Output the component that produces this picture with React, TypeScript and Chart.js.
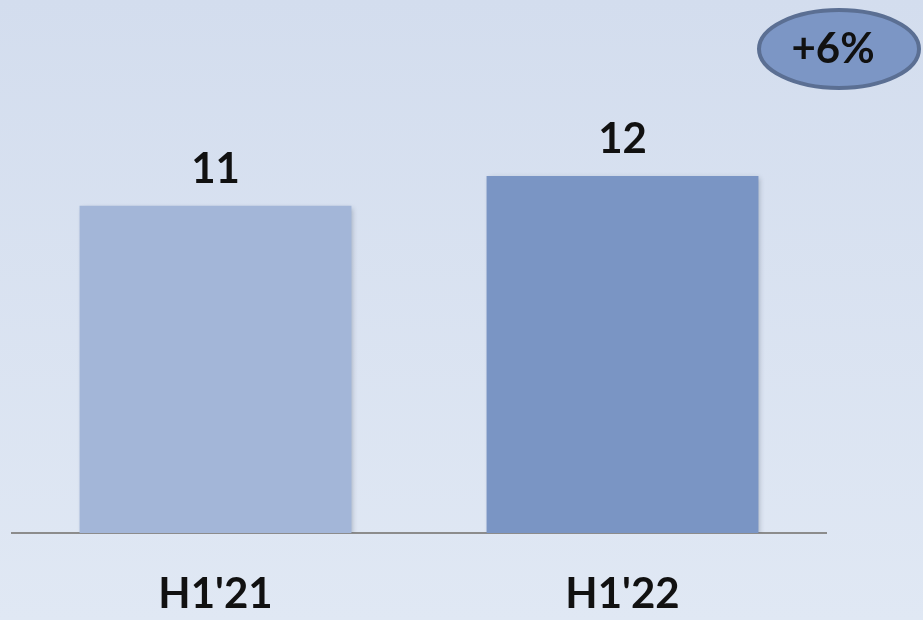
import React, { useEffect, useRef } from "react";
import { Chart, registerables } from "chart.js";

Chart.register(...registerables);

const categories = ["H1'21", "H1'22"];
const values = [11, 12];
const valueLabels = ["11", "12"];
const badgeLabel = "+6%";
const barColors = ["#a3b6d8", "#7a95c4"];

const FONT = "Lato, 'DejaVu Sans', sans-serif";

const backgroundPlugin = {
  id: "bgGradient",
  beforeDraw(chart: any) {
    const { ctx, width, height } = chart;
    const g = ctx.createLinearGradient(0, 0, 0, height);
    g.addColorStop(0, "#d3ddee");
    g.addColorStop(1, "#e0e8f4");
    ctx.save();
    ctx.fillStyle = g;
    ctx.fillRect(0, 0, width, height);
    ctx.restore();
  },
};

const shadowPlugin = {
  id: "barShadow",
  beforeDatasetsDraw(chart: any) {
    const ctx = chart.ctx;
    ctx.save();
    ctx.shadowColor = "rgba(40,50,70,0.28)";
    ctx.shadowBlur = 5;
    ctx.shadowOffsetX = 2;
    ctx.shadowOffsetY = 2;
  },
  afterDatasetsDraw(chart: any) {
    chart.ctx.restore();
  },
};

const labelsPlugin = {
  id: "valueLabels",
  afterDraw(chart: any) {
    const ctx = chart.ctx;
    const meta = chart.getDatasetMeta(0);
    ctx.save();
    ctx.fillStyle = "#111111";
    ctx.font = `bold 42px ${FONT}`;
    ctx.textAlign = "center";
    ctx.textBaseline = "alphabetic";
    meta.data.forEach((bar: any, i: number) => {
      ctx.fillText(valueLabels[i], bar.x, bar.y - 23);
    });

    // growth badge
    const cx = 839;
    const cy = 49;
    ctx.beginPath();
    ctx.ellipse(cx, cy, 80, 39, 0, 0, Math.PI * 2);
    ctx.fillStyle = "#7c96c5";
    ctx.fill();
    ctx.lineWidth = 4;
    ctx.strokeStyle = "#5b6f93";
    ctx.stroke();
    ctx.fillStyle = "#111111";
    ctx.font = `bold 42px ${FONT}`;
    ctx.fillText(badgeLabel, 833, 63);
    ctx.restore();
  },
};

export default function App() {
  const ref = useRef<HTMLCanvasElement | null>(null);

  useEffect(() => {
    document.body.style.margin = "0";
    if (!ref.current) return;
    const chart = new Chart(ref.current, {
      type: "bar",
      data: {
        labels: categories,
        datasets: [
          {
            data: values,
            backgroundColor: barColors,
            borderWidth: 0,
            barPercentage: 0.668,
            categoryPercentage: 1,
          },
        ],
      },
      options: {
        animation: false,
        responsive: false,
        events: [],
        layout: { padding: { top: 57, left: 12, right: 97, bottom: 0 } },
        plugins: {
          legend: { display: false },
          tooltip: { enabled: false },
        },
        scales: {
          x: {
            z: 1,
            grid: { display: false },
            border: { display: true, color: "#8c8c8c", width: 2 },
            ticks: {
              color: "#111111",
              font: { family: FONT, size: 42, weight: "bold" },
              padding: 28,
            },
            afterFit: (scale: any) => {
              scale.height = 87;
            },
          },
          y: {
            display: false,
            min: 0,
            max: 16,
          },
        },
      },
      plugins: [backgroundPlugin, shadowPlugin, labelsPlugin],
    });
    return () => chart.destroy();
  }, []);

  return <canvas ref={ref} width={923} height={620} style={{ display: "block" }} />;
}
